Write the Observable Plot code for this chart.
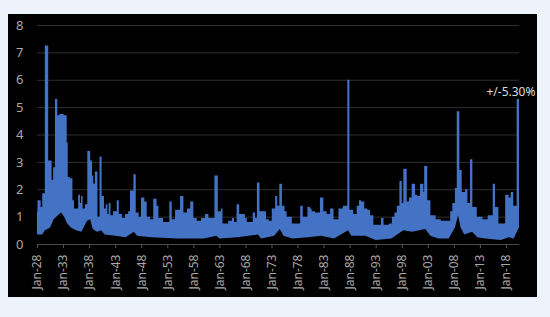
<!DOCTYPE html>
<html><head><meta charset="utf-8">
<script src="https://cdn.jsdelivr.net/npm/d3@7"></script>
<script src="https://cdn.jsdelivr.net/npm/@observablehq/plot@0.6"></script>
<style>
html,body{margin:0;padding:0;background:#eef2fa;width:550px;height:317px;overflow:hidden;}
#chart{position:absolute;left:8px;top:14px;width:529px;height:283px;background:#000;border-radius:0 0 7px 7px;}
#chart svg{overflow:visible;}
</style></head><body><div id="chart"></div>
<script>
// Upper envelope (segment start year, value in %)
const highYears = [
 1928.0,1928.1,1928.7,1929.0,1929.5,1930.15,1930.8,1931.1,1931.45,1931.9,1932.3,1933.1,1933.7,1933.9,1934.3,1934.8,1935.1,1935.9,1936.25,1936.45,1936.75,1937.2,1937.65,1938.2,1938.55,1938.8,1939.1,1939.6,1940.0,1940.4,1940.85,1941.2,1941.5,1941.75,1942.1,1942.6,1943.3,1943.7,1944.3,1944.9,
 1945.5,1945.85,1946.5,1946.95,1947.5,1947.96,1948.6,1949.05,1949.7,1950.3,1950.95,1951.3,1952.2,1953.4,1953.85,1954.5,1955.45,1956.1,1956.8,1957.4,1958.0,1958.65,1959.5,1960.25,1960.9,1962.05,1962.7,1963.3,1963.6,
 1964.1,1964.7,1965.4,1965.8,1966.3,1966.8,1967.9,1968.25,1969.4,1969.85,1970.2,1970.7,1971.45,1971.95,1972.5,1973.05,1973.7,1974.1,1974.5,1975.0,1975.5,1975.9,1976.9,1978.5,1979.0,1979.9,1980.4,1980.7,
 1981.35,1982.3,1982.95,1983.6,1984.25,1984.9,1985.85,1986.7,1987.55,1987.95,1988.7,1989.35,1989.8,1990.2,1990.8,1991.4,1991.9,1992.55,1994.0,1994.5,1995.5,1996.1,1996.6,1997.05,1997.55,1998.0,1998.3,1998.95,1999.4,1999.9,2000.55,2001.0,2001.5,2002.15,2002.3,2002.9,2003.5,2004.5,2005.5,
 2007.3,2007.7,2008.2,2008.55,2009.05,2009.5,2010.15,2010.6,2011.1,2011.55,2012.4,2013.5,2014.5,2015.45,2015.9,2016.55,2017.85,2018.5,2018.9,2019.4,2020.05,2020.5
];
const highValues = [
 1.2,1.6,1.35,1.85,7.25,3.05,2.35,2.8,5.3,4.7,4.75,4.7,3.7,2.45,2.4,1.6,1.3,1.8,1.5,1.75,1.3,1.45,3.4,3.05,2.5,2.2,2.65,1.0,3.2,1.75,1.3,1.45,1.1,1.5,1.05,1.2,1.6,1.1,0.95,1.1,
 1.2,1.95,2.55,1.15,1.0,1.7,1.55,1.0,0.9,1.65,1.4,0.95,0.8,1.55,0.9,1.25,1.75,1.15,1.3,1.55,0.95,0.85,0.95,1.1,0.95,2.5,1.2,1.3,0.75,
 0.75,0.85,0.95,0.8,1.45,1.1,0.95,0.8,1.15,0.95,2.25,1.2,1.2,0.9,0.85,1.3,1.75,1.4,2.2,1.4,1.2,1.0,0.75,1.4,1.0,1.35,1.3,1.2,
 1.15,1.7,1.2,1.1,1.3,0.9,1.3,1.4,6.0,1.25,1.1,1.4,1.6,1.55,1.3,1.25,1.05,0.7,0.95,0.7,0.75,1.0,1.15,1.4,2.3,1.5,2.75,1.55,1.7,2.2,1.8,1.75,2.2,1.9,2.85,1.6,1.05,0.9,0.85,
 1.2,1.5,2.05,4.85,2.7,1.9,2.0,1.5,3.1,1.35,1.0,0.9,1.05,2.2,1.35,0.75,1.8,1.7,1.9,1.4,5.3,5.3
];
// Lower envelope (year, value in %)
const lowYears = [1928,1929.0,1929.5,1930.5,1931.2,1932.0,1932.6,1933.2,1933.8,1934.5,1935.5,1936.5,1937.6,1938.2,1938.7,1939.5,1940.3,1941,1943,1945,1946.6,1947.2,1950,1955,1960,1962.4,1963,1966.5,1970.4,1971,1973.5,1974.6,1975.3,1977,1980,1982.5,1985,1987.7,1988.3,1991,1993,1996,1998.3,2000,2002.5,2003.5,2005,2007,2008.2,2008.8,2009.3,2010,2011.5,2012.5,2014,2017,2018.5,2019.5,2020.2,2020.5];
const lowValues = [0.35,0.35,0.5,0.6,0.9,1.05,1.15,1.0,0.75,0.6,0.5,0.45,0.85,0.9,0.55,0.45,0.5,0.35,0.3,0.25,0.45,0.3,0.25,0.2,0.2,0.3,0.2,0.25,0.35,0.2,0.3,0.55,0.3,0.2,0.25,0.3,0.2,0.5,0.3,0.3,0.15,0.2,0.5,0.45,0.55,0.3,0.2,0.2,0.6,1.05,0.6,0.35,0.45,0.25,0.2,0.15,0.25,0.2,0.5,0.6];

const yTicks = [0,1,2,3,4,5,6,7,8];
const xTickYears = [1928,1933,1938,1943,1948,1953,1958,1963,1968,1973,1978,1983,1988,1993,1998,2003,2008,2013,2018];
const xTickLabels = ["Jan-28","Jan-33","Jan-38","Jan-43","Jan-48","Jan-53","Jan-58","Jan-63","Jan-68","Jan-73","Jan-78","Jan-83","Jan-88","Jan-93","Jan-98","Jan-03","Jan-08","Jan-13","Jan-18"];
const noteYear = 2020.3, noteValue = 5.3, noteText = "+/-5.30%";

const high = highYears.map((x, i) => ({x, y: highValues[i]}));
const low = lowYears.map((x, i) => ({x, y: lowValues[i]}));

const chart = Plot.plot({
  width: 529, height: 283,
  marginLeft: 29, marginRight: 18, marginTop: 11, marginBottom: 53,
  style: {background: "#000", color: "#a8a8a8", fontFamily: "'Noto Sans', 'Liberation Sans', sans-serif", fontSize: "12px", overflow: "visible"},
  x: {type: "linear", domain: [1928, 2020.5]},
  y: {domain: [0, 8]},
  marks: [
    Plot.ruleY(yTicks.filter(d => d > 0), {stroke: "#2f2f2f", strokeWidth: 1}),
    Plot.areaY(high, {x: "x", y: "y", curve: "step-after", fill: "#4472c4"}),
    Plot.areaY(low, {x: "x", y: "y", curve: "linear", fill: "#000"}),
    Plot.ruleY([0], {stroke: "#4a4a4a"}),
    Plot.axisX({ticks: xTickYears, tickFormat: d => xTickLabels[xTickYears.indexOf(d)], tickRotate: -90, tickSize: 4, tickPadding: 6, stroke: "#555", label: null, fontSize: 12}),
    Plot.axisY({ticks: yTicks, tickSize: 0, tickPadding: 14, label: null, fontSize: 13}),
    Plot.text([{x: noteYear, y: noteValue, t: noteText}], {x: "x", y: "y", text: "t", textAnchor: "end", dx: 17, dy: -7, fill: "#dcdcdc", fontSize: 12})
  ]
});
document.getElementById("chart").appendChild(chart);
</script></body></html>
